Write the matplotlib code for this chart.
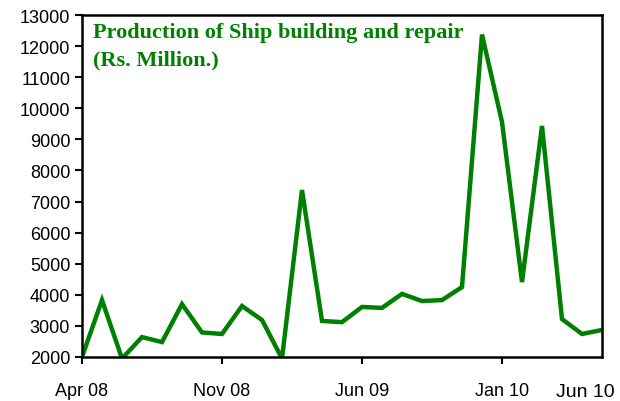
import numpy as np
import matplotlib.pyplot as plt

# monthly production, Apr 08 .. Jun 10
months = ['Apr 08', 'May 08', 'Jun 08', 'Jul 08', 'Aug 08', 'Sep 08', 'Oct 08',
          'Nov 08', 'Dec 08', 'Jan 09', 'Feb 09', 'Mar 09', 'Apr 09', 'May 09',
          'Jun 09', 'Jul 09', 'Aug 09', 'Sep 09', 'Oct 09', 'Nov 09', 'Dec 09',
          'Jan 10', 'Feb 10', 'Mar 10', 'Apr 10', 'May 10', 'Jun 10']
production = [2000, 3830, 1950, 2640, 2480, 3700, 2790,
              2740, 3640, 3190, 1950, 7370, 3160, 3120,
              3610, 3580, 4030, 3800, 3830, 4250, 12370,
              9560, 4410, 9430, 3220, 2740, 2870]
tick_months = ['Apr 08', 'Nov 08', 'Jun 09', 'Jan 10']

green = '#008000'
x = np.arange(len(months))

fig = plt.figure(figsize=(6.2, 4.02), dpi=100)
ax = fig.add_axes([82 / 620, 44 / 402, 520 / 620, 342 / 402])

ax.plot(x, production, color=green, lw=3.2, solid_joinstyle='miter')
ax.set_xlim(0, len(months) - 1)
ax.set_ylim(2000, 13000)
ax.set_yticks(np.arange(2000, 13001, 1000))

ax.set_xticks([months.index(m) for m in tick_months])
ax.set_xticklabels(tick_months)
ax.tick_params(axis='both', direction='out', length=5, width=1.5,
               labelsize=13, colors='black')
ax.tick_params(axis='x', pad=13)
for lab in ax.get_xticklabels() + ax.get_yticklabels():
    lab.set_fontfamily('Liberation Sans')

# last month label sits a little lower and right of the axis end
ax.text(615 / 520 - 82 / 520, -0.075, months[-1], transform=ax.transAxes,
        ha='right', va='top', fontsize=14, family='Liberation Sans')

for s in ax.spines.values():
    s.set_linewidth(1.8)
    s.set_color('black')

ax.text(0.021, 0.98, 'Production of Ship building and repair\n(Rs. Million.)',
        transform=ax.transAxes, ha='left', va='top', color=green,
        fontsize=16, fontweight='bold', family='Liberation Serif',
        linespacing=1.5)

fig.savefig('out.png', dpi=100)
